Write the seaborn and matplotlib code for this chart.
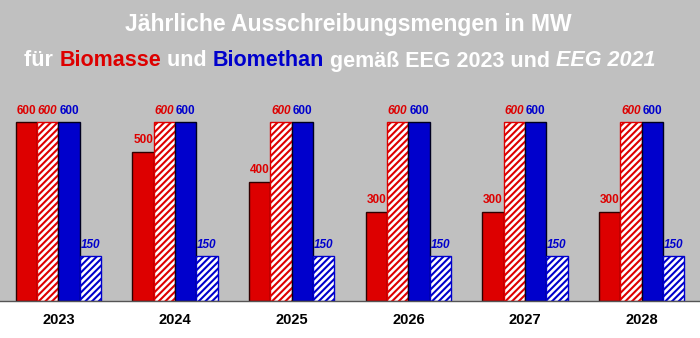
import matplotlib
matplotlib.use("Agg")
import matplotlib.pyplot as plt
import seaborn as sns
import pandas as pd

years = ["2023", "2024", "2025", "2026", "2027", "2028"]
biomasse_eeg2023 = [600, 500, 400, 300, 300, 300]
biomasse_eeg2021 = [600, 600, 600, 600, 600, 600]
biomethan_eeg2023 = [600, 600, 600, 600, 600, 600]
biomethan_eeg2021 = [150, 150, 150, 150, 150, 150]
series_names = ["Biomasse EEG 2023", "Biomasse EEG 2021", "Biomethan EEG 2023", "Biomethan EEG 2021"]

RED = "#dd0000"
BLUE = "#0000cc"
GRAY = "#c0c0c0"

rows = []
for name, vals in zip(series_names, [biomasse_eeg2023, biomasse_eeg2021, biomethan_eeg2023, biomethan_eeg2021]):
    for y, v in zip(years, vals):
        rows.append({"year": y, "value": v, "series": name})
df = pd.DataFrame(rows)

sns.set_theme(style="white")
plt.rcParams["font.family"] = ["Liberation Sans", "DejaVu Sans"]
plt.rcParams["hatch.linewidth"] = 1.5

W, H = 700, 338
fig = plt.figure(figsize=(W / 100, H / 100), dpi=100, facecolor="white")
ax = fig.add_axes([0, 37 / H, 1, 301 / H])
ax.set_facecolor(GRAY)

sns.barplot(data=df, x="year", y="value", hue="series", hue_order=series_names, order=years,
            palette=[RED, "white", BLUE, "white"], width=0.73, gap=0, legend=False,
            saturation=1, ax=ax, errorbar=None)

styles = [
    dict(face=RED, edge="#300000", hatch=None, lab=RED, italic=False),
    dict(face="white", edge=RED, hatch="/////", lab=RED, italic=True),
    dict(face=BLUE, edge="#000020", hatch=None, lab=BLUE, italic=False),
    dict(face="white", edge=BLUE, hatch="/////", lab=BLUE, italic=True),
]
label_family = ["Liberation Sans Narrow", "Liberation Sans", "DejaVu Sans"]
for cont, st in zip(ax.containers, styles):
    for p in cont:
        p.set_facecolor(st["face"])
        p.set_edgecolor(st["edge"])
        p.set_linewidth(1.0)
        if st["hatch"]:
            p.set_hatch(st["hatch"])
    ax.bar_label(cont, fmt="%d", padding=4, color=st["lab"], fontsize=8.5, fontweight="bold",
                 family=label_family, fontstyle="italic" if st["italic"] else "normal")

ax.set_xlim(-0.5, 5.5)
ax.set_ylim(0, 1010)
ax.set_xlabel("")
ax.set_ylabel("")
ax.set_yticks([])
for s in ["top", "left", "right"]:
    ax.spines[s].set_visible(False)
ax.spines["bottom"].set_color("#555555")
ax.spines["bottom"].set_linewidth(1.0)
ax.set_xticks(range(len(years)))
ax.set_xticklabels(years, fontsize=10.5, fontweight="bold", color="black", family=label_family)
ax.tick_params(axis="x", which="major", length=0, pad=9)
ax.set_xticks([0.5, 1.5, 2.5, 3.5, 4.5], minor=True)
ax.tick_params(axis="x", which="minor", length=4, width=1, color="#555555", direction="out")

fig.text(348 / W, 1 - 25 / H, "Jährliche Ausschreibungsmengen in MW", ha="center", va="center",
         color="white", fontsize=16.5, fontweight="bold")

parts = [("für ", "white", "normal"), ("Biomasse", RED, "normal"), (" und ", "white", "normal"),
         ("Biomethan", BLUE, "normal"), (" gemäß EEG 2023 und ", "white", "normal"),
         ("EEG 2021", "white", "italic")]
renderer = fig.canvas.get_renderer()
texts = []
for txt, col, sty in parts:
    t = fig.text(0, 1 - 61 / H, txt, ha="left", va="center", color=col, fontsize=15.5,
                 fontweight="bold", fontstyle=sty)
    texts.append(t)
widths = [t.get_window_extent(renderer).width for t in texts]
total = sum(widths)
start = 340 - total / 2
for t, w in zip(texts, widths):
    t.set_x(start / W)
    start += w

fig.savefig("out.png", dpi=100, facecolor="white")
